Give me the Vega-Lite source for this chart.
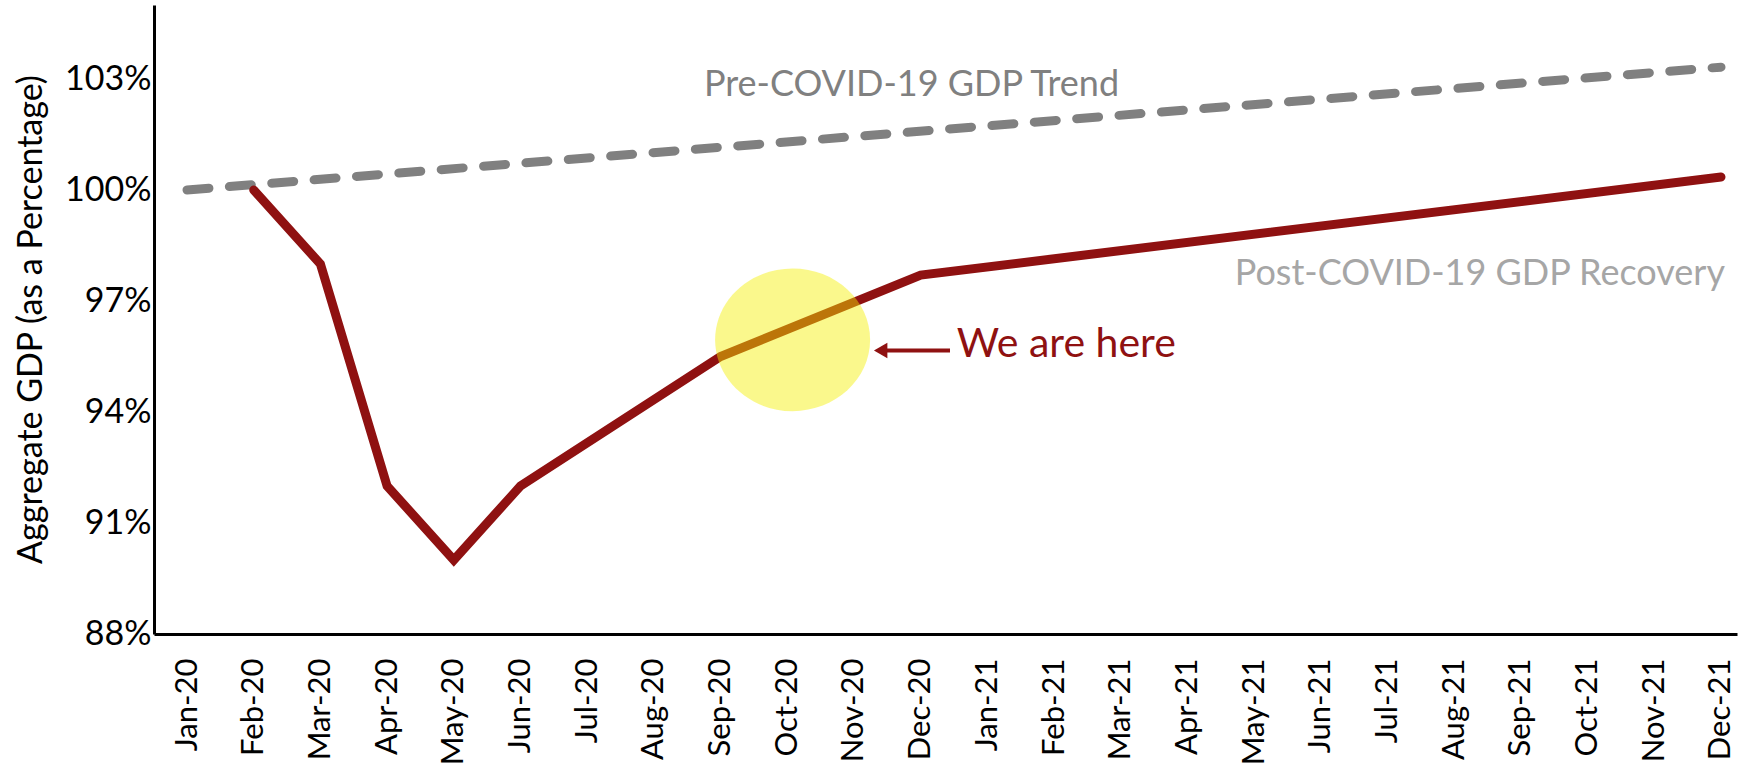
{
  "$schema": "https://vega.github.io/schema/vega-lite/v6.json",
  "autosize": {"type": "none"},
  "padding": {"left": 154, "top": 5, "right": 23, "bottom": 143},
  "width": 1583,
  "height": 629,
  "background": "white",
  "config": {
    "font": "Lato",
    "view": {"stroke": null}
  },
  "datasets": {
    "trend": [
      {"month": "Jan-20", "i": 0, "gdp": 100},
      {"month": "Dec-21", "i": 23, "gdp": 103.32}
    ],
    "recovery": [
      {"month": "Feb-20", "i": 1, "gdp": 100},
      {"month": "Mar-20", "i": 2, "gdp": 98},
      {"month": "Apr-20", "i": 3, "gdp": 92},
      {"month": "May-20", "i": 4, "gdp": 90},
      {"month": "Jun-20", "i": 5, "gdp": 92},
      {"month": "Sep-20", "i": 8, "gdp": 95.5},
      {"month": "Dec-20", "i": 11, "gdp": 97.7},
      {"month": "Dec-21", "i": 23, "gdp": 100.35}
    ],
    "marker": [
      {"i": 9.08, "gdp": 95.95}
    ],
    "arrow": [
      {"i": 10.45, "i2": 11.44, "gdp": 95.66}
    ],
    "arrowhead": [
      {"i": 10.4, "gdp": 95.66}
    ],
    "preLabel": [
      {"i": 7.75, "gdp": 102.54, "label": "Pre-COVID-19 GDP Trend"}
    ],
    "postLabel": [
      {"i": 23.06, "gdp": 97.43, "label": "Post-COVID-19 GDP Recovery"}
    ],
    "hereLabel": [
      {"i": 11.54, "gdp": 95.49, "label": "We are here"}
    ]
  },
  "encoding": {
    "x": {
      "field": "i",
      "type": "quantitative",
      "scale": {"domain": [-0.495, 23.24], "nice": false, "zero": false},
      "axis": {
        "title": null,
        "values": [0,1,2,3,4,5,6,7,8,9,10,11,12,13,14,15,16,17,18,19,20,21,22,23],
        "labelExpr": "['Jan-20','Feb-20','Mar-20','Apr-20','May-20','Jun-20','Jul-20','Aug-20','Sep-20','Oct-20','Nov-20','Dec-20','Jan-21','Feb-21','Mar-21','Apr-21','May-21','Jun-21','Jul-21','Aug-21','Sep-21','Oct-21','Nov-21','Dec-21'][datum.value]",
        "labelAngle": 270,
        "labelFontSize": 31,
        "labelColor": "black",
        "labelPadding": 24,
        "labelOverlap": false,
        "labelFlush": false,
        "ticks": false,
        "grid": false,
        "domain": true,
        "domainColor": "black",
        "domainWidth": 3
      }
    },
    "y": {
      "field": "gdp",
      "type": "quantitative",
      "scale": {"domain": [88, 105], "nice": false, "zero": false},
      "axis": {
        "title": "Aggregate GDP (as a Percentage)",
        "titleFontSize": 34,
        "titleFontWeight": "normal",
        "titleColor": "black",
        "titleX": -123,
        "titleY": 314,
        "titleAlign": "center",
        "titleBaseline": "middle",
        "titleAngle": 270,
        "values": [88, 91, 94, 97, 100, 103],
        "labelExpr": "datum.value + '%'",
        "labelFontSize": 34,
        "labelColor": "black",
        "labelPadding": 3,
        "labelOverlap": false,
        "labelFlush": false,
        "ticks": false,
        "grid": false,
        "domain": true,
        "domainColor": "black",
        "domainWidth": 3
      }
    }
  },
  "layer": [
    {
      "data": {"name": "trend"},
      "mark": {"type": "line", "color": "#808080", "strokeWidth": 9, "strokeDash": [22, 20.5], "strokeCap": "round"}
    },
    {
      "data": {"name": "recovery"},
      "mark": {"type": "line", "color": "#8f1111", "strokeWidth": 9, "strokeCap": "round"}
    },
    {
      "data": {"name": "marker"},
      "mark": {"type": "point", "shape": "M-1,0 A1,0.92 0 1,0 1,0 A1,0.92 0 1,0 -1,0 Z", "size": 24025, "filled": true, "color": "#f4f000", "opacity": 0.45, "strokeWidth": 0}
    },
    {
      "data": {"name": "arrow"},
      "mark": {"type": "rule", "color": "#8f1111", "strokeWidth": 4},
      "encoding": {"x2": {"field": "i2"}}
    },
    {
      "data": {"name": "arrowhead"},
      "mark": {"type": "point", "shape": "triangle-left", "size": 240, "filled": true, "color": "#8f1111", "opacity": 1}
    },
    {
      "data": {"name": "preLabel"},
      "mark": {"type": "text", "fontSize": 36, "align": "left", "baseline": "alphabetic", "color": "#808080"},
      "encoding": {"text": {"field": "label"}}
    },
    {
      "data": {"name": "postLabel"},
      "mark": {"type": "text", "fontSize": 36, "align": "right", "baseline": "alphabetic", "color": "#a6a6a6"},
      "encoding": {"text": {"field": "label"}}
    },
    {
      "data": {"name": "hereLabel"},
      "mark": {"type": "text", "fontSize": 41, "align": "left", "baseline": "alphabetic", "color": "#8f1111"},
      "encoding": {"text": {"field": "label"}}
    }
  ]
}
